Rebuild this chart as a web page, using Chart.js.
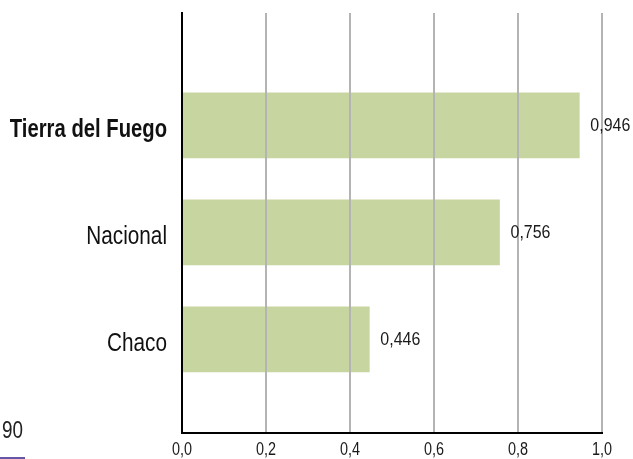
<!DOCTYPE html>
<html>
<head>
<meta charset="utf-8">
<script src="https://cdn.jsdelivr.net/npm/chart.js@4/dist/chart.umd.min.js"></script>
<style>
  html, body { margin: 0; padding: 0; background: #fff; }
  #wrap { position: relative; width: 633px; height: 459px; }
  #page {
    position: absolute; left: 2px; top: 419px;
    font-family: "Liberation Sans", Arial, sans-serif;
    font-size: 23px; color: #222; line-height: 23px;
    transform: scaleX(0.82); transform-origin: 0 0;
  }
  #pageRule { position: absolute; left: 0; top: 457px; width: 25px; height: 2px; background: #6656a8; }
</style>
</head>
<body>
<div id="wrap">
  <canvas id="c" width="633" height="459"></canvas>
  <div id="page">90</div>
  <div id="pageRule"></div>
</div>
<script>
const FONT = '"Liberation Sans", Arial, sans-serif';

// Regions and their index values
const categories = ['Tierra del Fuego', 'Nacional', 'Chaco'];
const values = [0.946, 0.756, 0.446];
const highlighted = 'Tierra del Fuego';
const xTicks = [0, 0.2, 0.4, 0.6, 0.8, 1.0];

const fmt = v => v.toFixed(1).replace('.', ',');
const fmtValue = v => v.toFixed(3).replace('.', ',');

// Draws text squeezed horizontally to get a condensed face
function condensedText(ctx, text, x, y, font, squeeze, align, baseline, color) {
  ctx.save();
  ctx.font = font;
  ctx.fillStyle = color;
  ctx.textAlign = align;
  ctx.textBaseline = baseline;
  ctx.translate(x, y);
  ctx.scale(squeeze, 1);
  ctx.fillText(text, 0, 0);
  ctx.restore();
}

// Category names, axis numbers and bar values in a condensed style
const condensedLabels = {
  id: 'condensedLabels',
  afterDraw(chart) {
    const ctx = chart.ctx;
    const xs = chart.scales.x;
    const ys = chart.scales.y;
    const area = chart.chartArea;

    categories.forEach((name, i) => {
      const bold = name === highlighted;
      condensedText(ctx, name, area.left - 15, ys.getPixelForValue(i) + 5,
        (bold ? 'bold ' : '') + '25px ' + FONT, bold ? 0.81 : 0.83,
        'right', 'middle', '#111');
    });

    xTicks.forEach(v => {
      condensedText(ctx, fmt(v), xs.getPixelForValue(v), 455,
        '18px ' + FONT, 0.8, 'center', 'alphabetic', '#1a1a1a');
    });

    const meta = chart.getDatasetMeta(0);
    meta.data.forEach((bar, i) => {
      condensedText(ctx, fmtValue(values[i]), bar.x + 11, bar.y,
        '19px ' + FONT, 0.84, 'left', 'middle', '#1a1a1a');
    });
  }
};

new Chart(document.getElementById('c'), {
  type: 'bar',
  data: {
    datasets: [{
      data: categories.map((c, i) => ({ x: values[i], y: i })),
      backgroundColor: 'rgb(199,214,160)',
      borderWidth: 0,
      barThickness: 65
    }]
  },
  options: {
    indexAxis: 'y',
    responsive: false,
    animation: false,
    layout: { padding: { top: 13, right: 31, bottom: 0, left: 0 } },
    plugins: { legend: { display: false }, tooltip: { enabled: false } },
    scales: {
      x: {
        type: 'linear',
        min: 0,
        max: 1,
        grid: { color: '#b4b4b4', lineWidth: 2, drawTicks: false, z: 1 },
        border: { color: '#000', width: 2, z: 2 },
        ticks: { stepSize: 0.2, display: false },
        afterFit: s => { s.height = 26; s.paddingLeft = 0; s.paddingRight = 0; }
      },
      y: {
        type: 'linear',
        reverse: true,
        offset: false,
        min: -1.05,
        max: 2.875,
        grid: { display: false },
        border: { color: '#000', width: 2, z: 2 },
        ticks: { display: false },
        afterFit: s => { s.width = 182; s.paddingTop = 0; s.paddingBottom = 0; }
      }
    }
  },
  plugins: [condensedLabels]
});
</script>
</body>
</html>
